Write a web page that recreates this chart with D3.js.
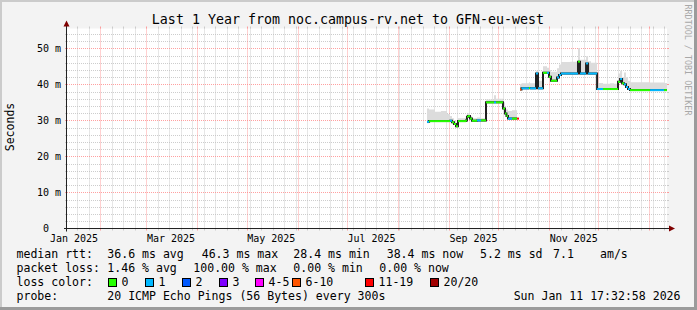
<!DOCTYPE html>
<html><head><meta charset="utf-8">
<script src="https://cdn.jsdelivr.net/npm/d3@7"></script>
<style>
html,body{margin:0;padding:0;background:#f3f3f3;}
svg{display:block;}
text{font-family:"DejaVu Sans Mono",monospace;fill:#000;}
</style></head><body>
<svg id="c" width="697" height="310"></svg>
<script>
// ---------- data ----------
const title = "Last 1 Year from noc.campus-rv.net to GFN-eu-west";
const yAxisTitle = "Seconds";
const watermark = "RRDTOOL / TOBI OETIKER";
const timeStart = "2025-01-11T17:32:58Z";
const timeEnd = "2026-01-11T17:32:58Z";
const xLabelMonths = ["2025-01-01","2025-03-01","2025-05-01","2025-07-01","2025-09-01","2025-11-01"];
const xLabelFormat = "%b %Y";
const yMax = 55.5;
const yMajorTicks = [0,10,20,30,40,50];
const yTickLabels = ["0  ","10 m","20 m","30 m","40 m","50 m"];
const yMinorStep = 2;

const dates = [
 "2025-08-18T18","2025-08-20T00","2025-08-23T14","2025-08-27T06","2025-08-30T22","2025-09-01T17","2025-09-02T22","2025-09-04T04","2025-09-05T09","2025-09-06T14","2025-09-11T11","2025-09-12T01","2025-09-12T16","2025-09-13T21","2025-09-15T02","2025-09-18T04","2025-09-20T14","2025-09-23T15","2025-09-28T12","2025-09-29T17","2025-10-03T23","2025-10-05T04","2025-10-06T02","2025-10-07T00","2025-10-09T11","2025-10-12T12","2025-10-13T17",
 "2025-10-14T07","2025-10-15T05","2025-10-19T19","2025-10-20T10","2025-10-24T01","2025-10-25T06","2025-10-28T07","2025-10-30T18","2025-10-31T23","2025-11-02T04","2025-11-05T20","2025-11-07T01","2025-11-08T06","2025-11-13T18","2025-11-18T14","2025-11-19T19","2025-11-23T12","2025-11-24T17","2025-11-26T12","2025-11-30T05","2025-12-03T19","2025-12-08T02","2025-12-10T12","2025-12-12T22","2025-12-14T05","2025-12-15T10","2025-12-16T14","2025-12-17T19","2025-12-19T00","2025-12-20T05","2026-01-01T10","2026-01-09T22","2026-01-11T17"
];
const median = [
 29.6,29.8,29.8,29.8,29.8,29.9,29.5,29.0,28.4,29.8,30.0,31.0,31.2,30.5,29.9,30.0,30.0,35.0,35.0,35.0,33.3,31.9,31.2,30.5,30.5,30.5,null,
 38.6,38.9,39.0,38.9,43.0,38.9,43.2,43.2,42.1,41.0,41.9,42.6,43.0,43.0,46.3,43.0,45.8,43.0,43.0,38.7,38.7,38.7,38.7,40.7,41.5,40.3,40.0,39.3,38.7,38.4,38.4,38.4,38.4
];
const smokeLo = [
 29.2,29.5,29.5,29.5,29.5,29.6,29.2,28.7,28.1,29.5,29.7,30.7,30.9,30.2,29.6,29.7,29.7,34.7,34.7,34.7,33.0,31.6,30.9,30.2,30.2,30.2,null,
 38.3,38.6,38.7,38.6,42.7,38.6,42.9,42.9,41.8,40.7,41.6,42.3,42.7,42.7,46.0,42.7,45.5,42.7,42.7,38.4,38.4,38.4,38.4,40.4,41.2,40.0,39.7,39.0,38.4,38.1,38.1,38.1,38.1
];
const smokeHi = [
 33.3,33.0,32.4,32.6,31.8,31.2,30.6,30.0,29.4,30.6,30.8,31.8,32.0,31.2,30.6,30.8,30.6,35.8,37.0,36.0,35.0,33.0,33.0,32.6,32.8,32.8,null,
 40.0,40.3,40.6,40.3,43.8,41.0,45.0,44.6,44.0,43.5,44.5,45.5,46.2,46.3,50.0,46.8,47.8,46.4,46.0,40.4,40.2,40.3,40.2,43.0,43.8,42.0,43.3,42.0,41.0,40.6,40.5,40.4,40.4
];
const lossClass = [
 1,0,0,0,0,1,0,0,0,0,0,0,0,0,0,1,0,0,1,0,0,0,0,1,0,6,null,
 5,1,0,1,1,1,0,1,0,0,1,1,1,1,0,1,1,1,1,1,0,0,0,0,1,0,1,1,1,0,1,0,0
];

const lossLabels = ["0","1","2","3","4-5","6-10","11-19","20/20"];
const lossColors = ["#26ff00","#00b8ff","#0059ff","#7e00ff","#ff00ff","#ff5500","#ff0000","#a10000"];

const rttHead = "median rtt:";
const rttStats = ["36.6 ms avg","46.3 ms max","28.4 ms min","38.4 ms now","5.2 ms sd","7.1","am/s"];
const lossHead = "packet loss:";
const lossStats = ["1.46 % avg","100.00 % max","0.00 % min","0.00 % now"];
const colorHead = "loss color:";
const probeHead = "probe:";
const probeText = "20 ICMP Echo Pings (56 Bytes) every 300s";
const stampText = "Sun Jan 11 17:32:58 2026";

// ---------- layout ----------
const W = 697, H = 310;
const X0 = 67, X1 = 667, YB = 228.5, YT = 28.5;
const rttX = [107.3, 201.7, 293.3, 386.7, 480, 553, 600];
const lossX = [107.3, 193.3, 293.3, 379.3];
const swatchX = [108.5, 145.5, 182.5, 219.5, 255.5, 292.5, 365.5, 430.5];
const legFont = "11.55px", axFont = "10px";

const svg = d3.select("#c");
const parse = d3.utcParse("%Y-%m-%dT%H");
const x = d3.scaleUtc().domain([new Date(timeStart), new Date(timeEnd)]).range([X0, X1]);
const y = d3.scaleLinear().domain([0, yMax]).range([YB, YT]);
const px = v => Math.round(v) + 0.5;

// background + 3D frame
svg.append("rect").attr("width", W).attr("height", H).attr("fill", "#f3f3f3");
svg.append("rect").attr("x", 0).attr("y", 0).attr("width", W).attr("height", 2).attr("fill", "#cbcbcb");
svg.append("rect").attr("x", 0).attr("y", 0).attr("width", 2).attr("height", H).attr("fill", "#cbcbcb");
svg.append("rect").attr("x", W - 3).attr("y", 0).attr("width", 3).attr("height", H).attr("fill", "#9b9b9b");
svg.append("rect").attr("x", 0).attr("y", H - 3).attr("width", W).attr("height", 3).attr("fill", "#9b9b9b");

// canvas
svg.append("rect").attr("x", X0).attr("y", YT).attr("width", X1 - X0).attr("height", YB - YT).attr("fill", "#ffffff");

// grid
const grid = svg.append("g");
const minorCol = "rgba(192,192,192,0.8)", majorCol = "rgba(255,128,128,0.75)";
const minorY = d3.range(0, yMax, yMinorStep).filter(v => v % 10 !== 0);
const weeks = d3.utcSaturday.range(x.domain()[0], x.domain()[1]);
const months = d3.utcMonth.range(x.domain()[0], x.domain()[1]);
const monthSet = new Set(months.map(d => +d));
function hLine(v, col) {
  const yy = px(y(v));
  grid.append("line").attr("x1", X0).attr("x2", X1).attr("y1", yy).attr("y2", yy)
    .attr("stroke", col).attr("stroke-dasharray", "1,1");
  grid.append("line").attr("x1", X0 - 2).attr("x2", X0).attr("y1", yy).attr("y2", yy).attr("stroke", col);
  grid.append("line").attr("x1", X1).attr("x2", X1 + 2).attr("y1", yy).attr("y2", yy).attr("stroke", col);
}
function vLine(d, col) {
  const xx = px(x(d));
  grid.append("line").attr("x1", xx).attr("x2", xx).attr("y1", YT).attr("y2", YB)
    .attr("stroke", col).attr("stroke-dasharray", "1,1");
  grid.append("line").attr("x1", xx).attr("x2", xx).attr("y1", YB).attr("y2", YB + 2).attr("stroke", col);
  grid.append("line").attr("x1", xx).attr("x2", xx).attr("y1", YT - 2).attr("y2", YT).attr("stroke", col);
}
minorY.forEach(v => hLine(v, minorCol));
weeks.filter(d => !monthSet.has(+d)).forEach(d => vLine(d, minorCol));
yMajorTicks.filter(v => v > 0).forEach(v => hLine(v, majorCol));
months.forEach(d => vLine(d, majorCol));

// data
const pts = dates.map((d, i) => ({d: parse(d), m: median[i], lo: smokeLo[i], hi: smokeHi[i], c: lossClass[i]}));

// smoke
const area = d3.area().curve(d3.curveStepAfter)
  .defined(p => p.hi != null)
  .x(p => x(p.d)).y0(p => y(p.lo)).y1(p => y(p.hi));
svg.append("path").datum(pts).attr("d", area).attr("fill", "#dcdcdc");

// median black step line
const line = d3.line().curve(d3.curveStepAfter)
  .defined(p => p.m != null)
  .x(p => x(p.d)).y(p => y(p.m));
svg.append("path").datum(pts).attr("d", line).attr("fill", "none")
  .attr("stroke", "#202020").attr("stroke-width", 2);

// median coloured by loss
const segs = svg.append("g");
for (let i = 0; i < pts.length - 1; i++) {
  const p = pts[i];
  if (p.m == null) continue;
  const yy = y(p.m);
  segs.append("line").attr("x1", x(p.d)).attr("x2", x(pts[i + 1].d))
    .attr("y1", yy).attr("y2", yy)
    .attr("stroke", lossColors[p.c]).attr("stroke-width", 2);
}

// axes
const axisCol = "#222", arrowCol = "#7f0000";
svg.append("line").attr("x1", X0 - 3).attr("x2", X1 + 3).attr("y1", YB).attr("y2", YB).attr("stroke", axisCol);
svg.append("line").attr("x1", X0 - 0.5).attr("x2", X0 - 0.5).attr("y1", YB + 3).attr("y2", YT - 3).attr("stroke", axisCol);
svg.append("path").attr("d", `M${X0 - 3.5},${YT - 2} L${X0 + 2.5},${YT - 2} L${X0 - 0.5},${YT - 8} Z`).attr("fill", arrowCol);
svg.append("path").attr("d", `M${X1 + 2},${YB - 3} L${X1 + 2},${YB + 3} L${X1 + 8},${YB} Z`).attr("fill", arrowCol);

// y tick labels
yMajorTicks.forEach((v, i) => {
  svg.append("text").attr("x", 61).attr("y", y(v) + 3.5).attr("text-anchor", "end")
    .attr("xml:space", "preserve").style("white-space", "pre")
    .style("font-size", axFont).text(yTickLabels[i]);
});
// x labels
const fmt = d3.utcFormat(xLabelFormat);
xLabelMonths.forEach(s => {
  const d = new Date(s + "T00:00:00Z");
  const mid = d3.utcDay.offset(d, 15);
  svg.append("text").attr("x", x(mid)).attr("y", 241.5).attr("text-anchor", "middle")
    .style("font-size", axFont).text(fmt(d));
});

// titles
svg.append("text").attr("x", 348).attr("y", 24).attr("text-anchor", "middle")
  .style("font-size", "13.3px").text(title);
svg.append("text").attr("transform", "translate(14,127) rotate(-90)").attr("text-anchor", "middle")
  .style("font-size", "11.5px").text(yAxisTitle);
svg.append("text").attr("transform", "translate(685,60) rotate(90)").attr("text-anchor", "middle")
  .style("font-size", "8.4px").style("fill", "#a8a8a8").text(watermark);

// legend
const L1 = 258, L2 = 272, L3 = 286, L4 = 300, LX = 16.5;
function t(xx, yy, s, anchor) {
  svg.append("text").attr("x", xx).attr("y", yy).attr("text-anchor", anchor || "start")
    .attr("xml:space", "preserve").style("white-space", "pre").style("font-size", legFont).text(s);
}
t(LX, L1, rttHead);
rttStats.forEach((s, i) => t(rttX[i], L1, s));
t(LX, L2, lossHead);
lossStats.forEach((s, i) => t(lossX[i], L2, s));
t(LX, L3, colorHead);
lossLabels.forEach((s, i) => {
  svg.append("rect").attr("x", swatchX[i]).attr("y", 278.5).attr("width", 8).attr("height", 8)
    .attr("fill", lossColors[i]).attr("stroke", "#000").attr("stroke-width", 1);
  t(swatchX[i] + 13, L3, s);
});
t(LX, L4, probeHead);
t(107.3, L4, probeText);
t(680.5, L4, stampText, "end");
</script>
</body></html>
